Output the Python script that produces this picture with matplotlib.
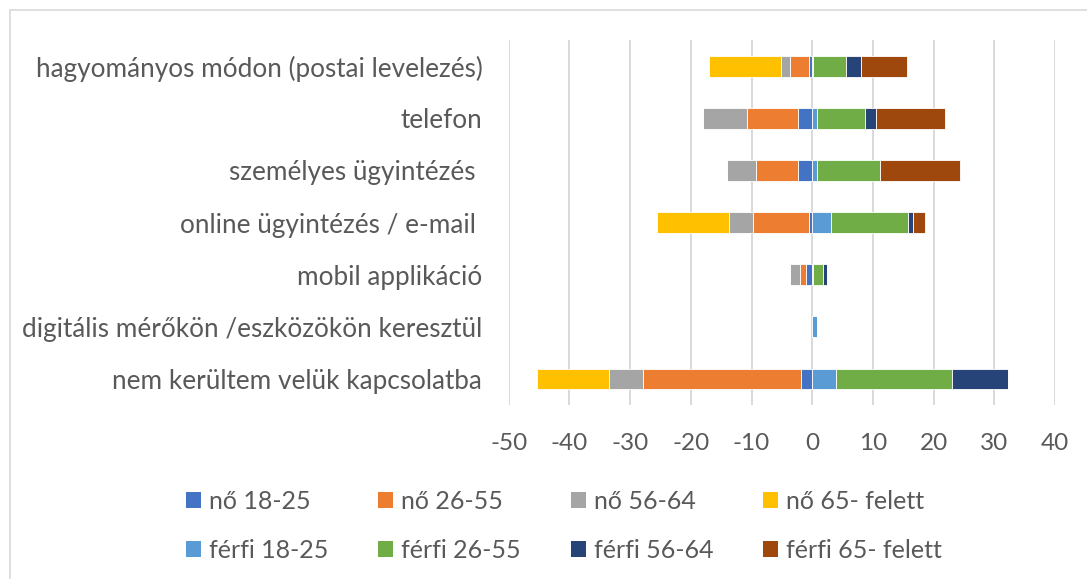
import matplotlib
matplotlib.use('Agg')
import matplotlib.pyplot as plt
from matplotlib.patches import Rectangle, Patch
import numpy as np

plt.rcParams['font.family'] = ['Lato', 'DejaVu Sans']

categories = ['hagyományos módon (postai levelezés)', 'telefon',
              'személyes ügyintézés ', 'online ügyintézés / e-mail ',
              'mobil applikáció', 'digitális mérőkön /eszközökön keresztül',
              'nem kerültem velük kapcsolatba']

# women (left side, negative)
no_18_25 = [-0.6, -2.4, -2.4, -0.6, -1.1, 0, -1.8]
no_26_55 = [-3.0, -8.4, -6.9, -9.1, -0.9, 0, -26.0]
no_56_64 = [-1.6, -7.2, -4.7, -4.0, -1.6, 0, -5.6]
no_65 = [-11.8, 0, 0, -11.8, 0, 0, -11.9]
# men (right side)
ferfi_18_25 = [0.2, 0.8, 0.8, 3.1, 0.2, 0.8, 3.9]
ferfi_26_55 = [5.4, 7.9, 10.4, 12.7, 1.5, 0, 19.1]
ferfi_56_64 = [2.5, 1.8, 0, 0.8, 0.8, 0, 9.3]
ferfi_65 = [7.5, 11.3, 13.2, 1.9, 0, 0, 0]

series_labels = ['nő 18-25', 'nő 26-55', 'nő 56-64', 'nő 65- felett',
                 'férfi 18-25', 'férfi 26-55', 'férfi 56-64', 'férfi 65- felett']
xticks = [-50, -40, -30, -20, -10, 0, 10, 20, 30, 40]

colors = ['#4472C4', '#ED7D31', '#A5A5A5', '#FFC000',
          '#5B9BD5', '#70AD47', '#264478', '#9E480E']
txt = '#595959'

fig = plt.figure(figsize=(10.87, 5.79), dpi=100)
ax = fig.add_axes([0.468, 0.3005, 0.5026, 0.6304])

y = np.arange(len(categories))
handles = []
for group in ([no_18_25, no_26_55, no_56_64, no_65],
              [ferfi_18_25, ferfi_26_55, ferfi_56_64, ferfi_65]):
    left = np.zeros(len(categories))
    for vals in group:
        vals = np.array(vals)
        i = len(handles)
        ax.barh(y, vals, left=left, height=0.4, color=colors[i],
                edgecolor='white', linewidth=0.6, zorder=3)
        handles.append(Patch(facecolor=colors[i], label=series_labels[i]))
        left = left + vals

ax.set_xlim(-50, 40)
ax.set_ylim(len(categories) - 0.5, -0.5)
ax.set_xticks(xticks)
ax.set_xticklabels([str(v) for v in xticks], fontsize=17.5, color=txt)
ax.set_yticks(y)
ax.set_yticklabels(categories, fontsize=18.8, color=txt)
ax.tick_params(axis='x', length=0, pad=20)
ax.tick_params(axis='y', length=0, pad=19)
ax.grid(axis='x', color='#d9d9d9', linewidth=1.4, zorder=0)
for s in ax.spines.values():
    s.set_visible(False)

# reorder so the legend fills row by row
order = [0, 4, 1, 5, 2, 6, 3, 7]
fig.legend([handles[i] for i in order], [series_labels[i] for i in order],
           ncol=4, loc='upper left', bbox_to_anchor=(0.15, 0.1934),
           frameon=False, fontsize=18, labelcolor=txt,
           handlelength=0.6, handleheight=0.6, handletextpad=0.32,
           columnspacing=2.0, labelspacing=1.04)

fig.patches.append(Rectangle((10 / 1087, -0.1), 1.2, 1.1 - 10 / 579,
                             transform=fig.transFigure, fill=False,
                             edgecolor='#d9d9d9', linewidth=1.2))

fig.savefig('out.png', dpi=100)
